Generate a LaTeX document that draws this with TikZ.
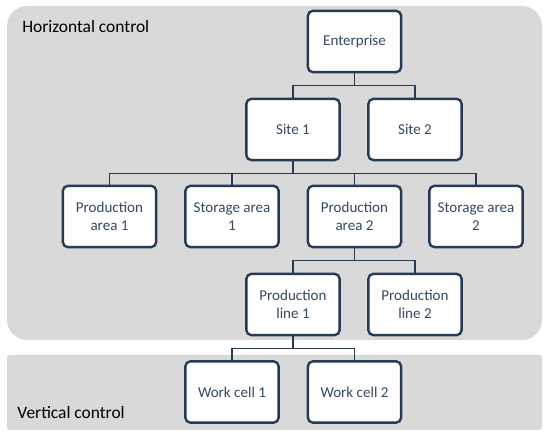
\documentclass[tikz,border=0pt]{standalone}
\usepackage{fontspec}
\setmainfont{Carlito}
\usetikzlibrary{positioning}
\definecolor{boxline}{RGB}{38,58,84}
\definecolor{boxtext}{RGB}{52,72,98}
\definecolor{zonefill}{RGB}{217,217,217}
\tikzset{
  unit/.style={
    rectangle,
    rounded corners=3.5pt,
    draw=boxline,
    line width=1.7pt,
    fill=white,
    align=center,
    minimum width=2.33cm,
    minimum height=1.53cm,
    text=boxtext,
    font=\fontsize{10.7}{12.6}\selectfont
  },
  zone/.style={
    fill=zonefill,
    draw=none
  },
  link/.style={draw=boxline, line width=0.8pt},
  zonelabel/.style={font=\fontsize{12.4}{14}\selectfont, anchor=base west, inner sep=0pt}
}
\begin{document}
\begin{tikzpicture}[x=1cm,y=1cm]
\useasboundingbox (0,0) rectangle (13.75,10.925);
% control zones
\path[zone, rounded corners=0.5cm] (0.175,2.425) rectangle (13.55,10.775);
\path[zone, rounded corners=2pt] (0.175,0.175) rectangle (13.55,2.05);
\node[zonelabel] (hlabel) at (0.55,10.1) {Horizontal control};
\node[zonelabel] (vlabel) at (0.43,0.45) {Vertical control};

% hierarchy
\node[unit] (ent) at (8.8625,9.8875) {Enterprise};
\node[unit] (site1) at (7.325,7.6875) {Site 1};
\node[unit] (site2) at (10.375,7.6875) {Site 2};
\node[unit] (parea1) at (2.7375,5.5125) {Production\\area 1};
\node[unit] (sarea1) at (5.8,5.5125) {Storage area\\1};
\node[unit] (parea2) at (8.8625,5.5125) {Production\\area 2};
\node[unit] (sarea2) at (11.9,5.5125) {Storage area\\2};
\node[unit] (pline1) at (7.325,3.3125) {Production\\line 1};
\node[unit] (pline2) at (10.375,3.3125) {Production\\line 2};
\node[unit] (cell1) at (5.8,1.125) {Work cell 1};
\node[unit] (cell2) at (8.8625,1.125) {Work cell 2};

% connectors
\draw[link] (ent.south) -- ++(0,-0.3) coordinate (j1);
\draw[link] (j1) -| (site1.north);
\draw[link] (j1) -| (site2.north);
\draw[link] (site1.south) -- ++(0,-0.3) coordinate (j2);
\draw[link] (j2) -| (parea1.north);
\draw[link] (j2) -| (sarea1.north);
\draw[link] (j2) -| (parea2.north);
\draw[link] (j2) -| (sarea2.north);
\draw[link] (parea2.south) -- ++(0,-0.3) coordinate (j3);
\draw[link] (j3) -| (pline1.north);
\draw[link] (j3) -| (pline2.north);
\draw[link] (pline1.south) -- ++(0,-0.3) coordinate (j4);
\draw[link] (j4) -| (cell1.north);
\draw[link] (j4) -| (cell2.north);
\end{tikzpicture}
\end{document}
